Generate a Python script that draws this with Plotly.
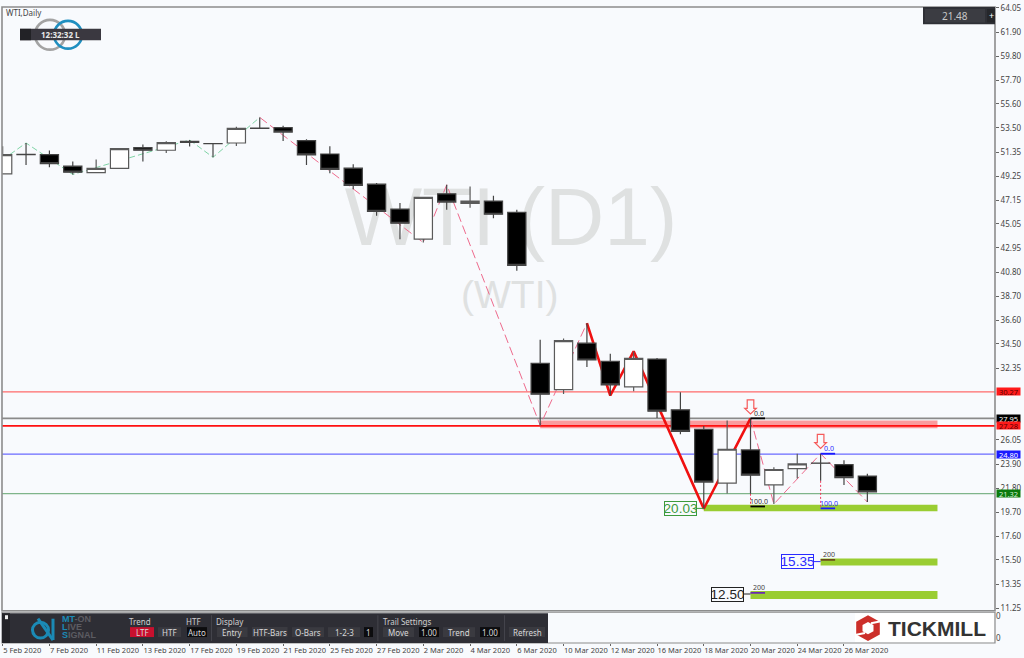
import plotly.graph_objects as go

BG = "#f8fafd"
UI = "Noto Sans"
ARIAL = "Liberation Sans"

# ---------- data ----------
dates = ["5 Feb 2020","6 Feb 2020","7 Feb 2020","10 Feb 2020","11 Feb 2020","12 Feb 2020","13 Feb 2020","14 Feb 2020",
         "17 Feb 2020","18 Feb 2020","19 Feb 2020","20 Feb 2020","21 Feb 2020","24 Feb 2020","25 Feb 2020","26 Feb 2020",
         "27 Feb 2020","28 Feb 2020","2 Mar 2020","3 Mar 2020","4 Mar 2020","5 Mar 2020","6 Mar 2020","9 Mar 2020",
         "10 Mar 2020","11 Mar 2020","12 Mar 2020","13 Mar 2020","16 Mar 2020","17 Mar 2020","18 Mar 2020","19 Mar 2020",
         "20 Mar 2020","23 Mar 2020","24 Mar 2020","25 Mar 2020","26 Mar 2020","27 Mar 2020"]
opens  = [49.45,51.17,51.15,50.13,49.57,49.93,51.76,51.53,52.32,52.12,52.17,53.47,53.52,52.38,51.20,49.95,48.55,46.36,43.71,47.70,
          46.86,47.06,46.07,32.79,30.48,34.56,32.96,30.71,33.16,28.70,26.98,22.25,25.17,22.10,23.53,24.02,23.88,22.87]
highs  = [51.88,52.17,51.50,50.54,50.71,51.70,52.03,52.32,52.43,52.12,53.60,54.42,53.69,52.49,51.88,50.30,48.64,46.89,47.40,48.49,
          48.35,47.53,46.30,34.86,34.97,36.32,33.64,33.84,33.25,30.25,27.27,27.77,27.95,23.65,24.84,24.84,24.27,23.07]
lows   = [49.45,50.24,50.04,49.40,49.55,49.93,50.54,51.29,51.85,50.91,51.90,53.39,52.34,50.24,49.51,48.09,45.77,43.71,43.41,46.30,
          46.47,45.55,40.93,27.33,30.10,32.46,29.96,30.34,27.98,26.54,20.00,21.34,21.32,20.41,22.66,22.45,22.08,20.59]
closes = [51.15,51.15,50.36,49.60,49.93,51.68,51.53,52.20,52.23,52.11,53.45,53.45,53.13,51.12,49.84,48.44,46.16,45.11,47.39,46.97,
          47.06,45.90,41.40,30.07,34.78,33.08,30.89,33.23,28.58,26.81,22.34,25.23,22.95,23.45,23.94,24.00,22.74,21.48]

tick_idx = list(range(0, 37, 2))
y_ticks = [64.05,61.90,59.80,57.70,55.60,53.50,51.35,49.25,47.15,45.05,42.95,40.80,38.70,36.60,34.50,32.35,
           26.05,23.90,21.80,19.70,17.60,15.50,13.35,11.25]
pane_ticks = [27, 5]
pane_labels = ["0", "0"]

level_vals   = [30.27, 27.95, 27.28, 24.80, 21.32]
level_lines  = ["#ff6a6a", "#8a8a8a", "#ff1010", "#6a6aff", "#7fb58a"]
level_widths = [1.2, 1.6, 1.8, 1.2, 1.2]
level_bgs    = ["#ff1a1a", "#000000", "#ff1a1a", "#1a1aff", "#0b7a0b"]
level_fgs    = ["#5a0000", "#ffffff", "#5a0000", "#ffffff", "#d8f0d8"]

green_i = [0, 1, 3, 8, 9, 11]
green_p = [50.70, 52.17, 49.40, 52.43, 50.91, 54.42]
pink1_i = [11, 18, 19, 23, 25]
pink1_p = [54.42, 43.41, 48.49, 27.33, 36.32]
thick_i = [25, 26, 27, 30, 32]
thick_p = [36.32, 29.96, 33.84, 20.00, 27.95]
pink2_i = [32, 33, 35, 37]
pink2_p = [27.95, 20.41, 24.84, 20.59]

zone_start = [23, 30, 35, 32]
zone_end   = [40, 40, 40, 40]
zone_top   = [27.77, 20.35, 15.62, 12.76]
zone_bot   = [27.07, 19.77, 15.01, 12.06]
zone_cols  = ["rgba(255,40,40,0.45)", "#9acd32", "#9acd32", "#9acd32"]

target_vals = [20.03, 15.35, 12.50]
target_cols = ["#3c9a3c", "#2a2aff", "#222222"]
target_idx  = [30, 35, 32]

fib_idx  = [32, 32, 35, 35, 35, 32]
fib_p    = [27.95, 20.20, 24.84, 20.03, 15.50, 12.60]
fib_text = ["0.0", "100.0", "0.0", "100.0", "200", "200"]
fib_col  = ["#000000", "#000000", "#1a1aff", "#1a1aff", "#6b4a1a", "#6a2ab0"]
fib_txt  = ["#333333", "#333333", "#2a2aff", "#2a2aff", "#444444", "#444444"]

arrow_idx = [32, 35]
arrow_p   = [28.95, 25.93]

btn_labels = ["LTF","HTF","Auto","Entry","HTF-Bars","O-Bars","1-2-3","1","Move","1.00","Trend","1.00","Refresh"]
head_labels = ["Trend","HTF","Display","Trail Settings"]

# ---------- geometry helpers ----------
L, R, T, B = 2, 995, 2, 643
X0, DX = 2.67, 23.37
x_range = [(L - X0) / DX, (R - X0) / DX]
y_range = [11.07, 64.13]
def PX(x): return (x - L) / (R - L)
def PY(y): return 1 - (y - T) / (B - T)

fig = go.Figure()

# main layer (below candles)
fig.add_trace(go.Scatter(x=[21.75], y=[45.0], mode="text", text=["WTI (D1)"], hoverinfo="skip",
                         textfont=dict(family=ARIAL, size=82, color="#dfe1e1"), showlegend=False))
fig.add_trace(go.Scatter(x=[21.7], y=[38.5], mode="text", text=["(WTI)"], hoverinfo="skip",
                         textfont=dict(family=ARIAL, size=39, color="#dfe1e1"), showlegend=False))
for s, e, t, b, c in zip(zone_start, zone_end, zone_top, zone_bot, zone_cols):
    fig.add_trace(go.Scatter(x=[s, e, e, s, s], y=[t, t, b, b, t], mode="lines", fill="toself", fillcolor=c,
                             line=dict(width=0), hoverinfo="skip", showlegend=False))
for v, c, w in zip(level_vals, level_lines, level_widths):
    fig.add_trace(go.Scatter(x=x_range, y=[v, v], mode="lines", line=dict(color=c, width=w),
                             hoverinfo="skip", showlegend=False))
fig.add_trace(go.Scatter(x=green_i, y=green_p, mode="lines", line=dict(color="#7fd3a5", width=1, dash="6px,3px"),
                         hoverinfo="skip", showlegend=False))
for xs, ys in [(pink1_i, pink1_p), (pink2_i, pink2_p)]:
    fig.add_trace(go.Scatter(x=xs, y=ys, mode="lines", line=dict(color="#ee6a8c", width=1, dash="9px,4px"),
                             hoverinfo="skip", showlegend=False))
fig.add_trace(go.Scatter(x=thick_i, y=thick_p, mode="lines", line=dict(color="#f01010", width=2.6),
                         hoverinfo="skip", showlegend=False))
fig.add_trace(go.Scatter(x=[32, 32], y=[21.32, 20.20], mode="lines", line=dict(color="#ee3a5a", width=1, dash="2px,2px"),
                         hoverinfo="skip", showlegend=False))
fig.add_trace(go.Scatter(x=[35, 35], y=[22.45, 20.03], mode="lines", line=dict(color="#ee3a5a", width=1, dash="2px,2px"),
                         hoverinfo="skip", showlegend=False))

# empty lower pane keeps its axis alive
fig.add_trace(go.Scatter(x=[0], y=[0], mode="lines", xaxis="x", yaxis="y2", line=dict(width=0),
                         hoverinfo="skip", showlegend=False))

# candles on an overlay axis so they sit above every line
fig.add_trace(go.Candlestick(x=list(range(len(opens))), open=opens, high=highs, low=lows, close=closes,
                             xaxis="x", yaxis="y3", whiskerwidth=0, hoverinfo="skip", showlegend=False,
                             increasing=dict(line=dict(color="#5a5a5a", width=1.2), fillcolor="#ffffff"),
                             decreasing=dict(line=dict(color="#444444", width=1.2), fillcolor="#000000")))

# short fib ticks and connectors go above the zones
for i, p, c in zip(fib_idx, fib_p, fib_col):
    fig.add_trace(go.Scatter(x=[i, i + 0.62], y=[p, p], mode="lines", line=dict(color=c, width=1.8),
                             hoverinfo="skip", showlegend=False, xaxis="x", yaxis="y3"))
for v, c, s in zip(target_vals, target_cols, target_idx):
    fig.add_trace(go.Scatter(x=[s - 0.3, s], y=[v, v], mode="lines", line=dict(color=c, width=1),
                             hoverinfo="skip", showlegend=False, xaxis="x", yaxis="y3"))

shapes, ann = [], []

def box(x0, y0, x1, y1, fill, line=None, lw=0):
    shapes.append(dict(type="rect", xref="paper", yref="paper", x0=PX(x0), x1=PX(x1), y0=PY(y0), y1=PY(y1),
                       fillcolor=fill, line=dict(color=line or fill, width=lw), layer="above"))
def seg(x0, y0, x1, y1, color, w):
    shapes.append(dict(type="line", xref="paper", yref="paper", x0=PX(x0), x1=PX(x1), y0=PY(y0), y1=PY(y1),
                       line=dict(color=color, width=w), layer="above"))
def ring(cx, cy, r, color, w):
    shapes.append(dict(type="circle", xref="paper", yref="paper", x0=PX(cx - r), x1=PX(cx + r), y0=PY(cy - r), y1=PY(cy + r),
                       line=dict(color=color, width=w), fillcolor="rgba(0,0,0,0)", layer="above"))
def txt(x, y, s, size=8, color="#333", font=UI, anchor="center", **kw):
    ann.append(dict(xref="paper", yref="paper", x=PX(x), y=PY(y), text=s, showarrow=False, xanchor=anchor,
                    yanchor="middle", font=dict(family=font, size=size, color=color), borderpad=0, **kw))

# frames
box(L, 2, R, 610.5, "rgba(0,0,0,0)", "#8c8c8c", 1.6)
box(L, 612, R, 643, "rgba(0,0,0,0)", "#8c8c8c", 1.2)

# level tags on the price scale
for v, bg, fg in zip(level_vals, level_bgs, level_fgs):
    ann.append(dict(xref="paper", yref="y", x=1, xshift=1, y=v, text=f"{v:.2f}", showarrow=False, xanchor="left",
                    yanchor="middle", bgcolor=bg, width=23, height=7, borderpad=0, align="center",
                    font=dict(family=UI, size=7.5, color=fg)))
# target labels
for v, c, s in zip(target_vals, target_cols, target_idx):
    ann.append(dict(xref="x", yref="y", x=s - 0.3, y=v, text=f"{v:.2f}", showarrow=False, xanchor="right",
                    yanchor="middle", bgcolor=BG, bordercolor=c, borderwidth=1, borderpad=0, width=31, height=13,
                    font=dict(family=ARIAL, size=13.5, color=c)))
# fib labels
for i, p, t, c in zip(fib_idx, fib_p, fib_text, fib_txt):
    ann.append(dict(xref="x", yref="y", x=i + 0.36, y=p, yshift=5, text=t, showarrow=False, xanchor="center",
                    yanchor="middle", font=dict(family=UI, size=7, color=c)))
# hollow arrows, placed on the axes and sized in pixels
for i, p in zip(arrow_idx, arrow_p):
    shapes.append(dict(type="path", xref="x", yref="y", xsizemode="pixel", ysizemode="pixel", xanchor=i, yanchor=p,
                       path="M -3.3 7 L 3.3 7 L 3.3 -1.4 L 5.8 -1.4 L 0 -7 L -5.8 -1.4 L -3.3 -1.4 Z",
                       fillcolor=BG, line=dict(color="#f55a5a", width=1.2), layer="above"))

# top-left
txt(5, 8, "WTI,Daily", 8, "#444", anchor="left")
ring(50, 30, 15, "#a3a3a3", 2.6)
ring(68, 30, 14, "#1f8fc0", 2.6)
box(20, 24, 101, 35.5, "#3a3840")
box(20, 24, 31, 35.5, "#222226")
txt(60.5, 29.5, "<b>12:32:32 L</b>", 8, "#e8e8e8")

# top-right price box
box(923, 2, 995, 19.5, "#2f3036")
box(925, 4, 985, 17.5, "#3b3c42")
box(987, 4, 995, 17.5, "#26272b")
txt(955, 11, "21.48", 10, "#c8c8c8")
txt(991, 11, "+", 9, "#ffffff")

# bottom toolbar
box(2, 613, 548, 643, "#2e2e35")
box(2, 613, 10, 643, "#232327")
box(5, 615, 8, 619, "#f0f0f0")
for sx in [211, 377.5, 504]:
    box(sx, 615, sx + 0.8, 641, "#4a4a52")
ring(40.5, 630, 8, "#1b8ab5", 3)
seg(38, 618.5, 53, 640, "#1b8ab5", 3)
seg(53, 618.5, 53, 640, "#1b8ab5", 3)
for yy, a, b in [(619, "MT", "-ON"), (627, "L", "IVE"), (635, "S", "IGNAL")]:
    txt(61, yy, f"<b><span style='color:#1b8ab5'>{a}</span><span style='color:#5c5c62'>{b}</span></b>", 9, "#666",
        font=ARIAL, anchor="left")
for (x, s) in zip([140, 193, 229.5, 407], head_labels):
    txt(x, 621, s, 8, "#cfcfcf")
btn_pos = [(130,154,"#c8102e"),(158,181,"#3a3a40"),(187,207,"#0c0c0e"),(217,247.5,"#3a3a40"),(252,287.5,"#3a3a40"),
           (292,324,"#3a3a40"),(328,360,"#3a3a40"),(364,373,"#0c0c0e"),(383,414,"#3a3a40"),(419,439,"#0c0c0e"),
           (443,475,"#3a3a40"),(480,500,"#0c0c0e"),(509,545,"#3a3a40")]
for (a, b, c), s in zip(btn_pos, btn_labels):
    box(a, 627, b, 637, c)
    txt((a + b) / 2, 632, s, 8, "#d8d8d8")

# Tickmill logo
box(855, 613, 994, 642, "#ffffff")
def hexpath(cx, cy, rx, ry):
    pts = [(cx, cy - ry), (cx + rx, cy - ry / 2), (cx + rx, cy + ry / 2), (cx, cy + ry), (cx - rx, cy + ry / 2), (cx - rx, cy - ry / 2)]
    return "M " + " L ".join(f"{PX(a):.5f} {PY(b):.5f}" for a, b in pts) + " Z"
shapes.append(dict(type="path", xref="paper", yref="paper", path=hexpath(868, 628, 11.8, 13), fillcolor="#cc2f2a", line=dict(width=0), layer="above"))
shapes.append(dict(type="path", xref="paper", yref="paper", path=hexpath(868, 628, 5.5, 6.2), fillcolor="#ffffff", line=dict(width=0), layer="above"))
seg(871, 623, 881, 621, "#ffffff", 2)
seg(865, 633, 855, 635, "#ffffff", 2)
txt(936.5, 628, "<b>TICKMILL</b>", 21, "#333333", font=ARIAL)

AX = dict(showgrid=False, zeroline=False)
fig.update_layout(
    width=1024, height=658, autosize=False, margin=dict(l=L, r=1024 - R, t=T, b=658 - B),
    paper_bgcolor=BG, plot_bgcolor=BG, boxgap=0.22, boxgroupgap=0, showlegend=False, shapes=shapes, annotations=ann,
    xaxis=dict(**AX, anchor="y2", range=x_range, tickmode="array", tickvals=tick_idx, tickangle=0,
               ticktext=[dates[i] for i in tick_idx], ticks="outside", ticklen=2, tickcolor="#666",
               ticklabelposition="outside right", ticklabeloverflow="allow",
               tickfont=dict(family=UI, size=7.5, color="#444"),
               showline=False, rangeslider=dict(visible=False)),
    yaxis=dict(**AX, domain=[(B - 610) / (B - T), 1], range=y_range, side="right", anchor="x", tickmode="array",
               tickvals=y_ticks, ticktext=[f"{v:.2f}" for v in y_ticks], ticks="outside", ticklen=3, tickcolor="#666",
               ticklabeloverflow="allow", tickfont=dict(family=UI, size=8, color="#444")),
    yaxis2=dict(**AX, domain=[0, (B - 612) / (B - T)], range=[0, 31], side="right", anchor="x", tickmode="array",
                tickvals=pane_ticks, ticktext=pane_labels, ticks="", ticklabeloverflow="allow",
                tickfont=dict(family=UI, size=8, color="#444")),
    yaxis3=dict(**AX, domain=[(B - 610) / (B - T), 1], range=y_range, overlaying="y", side="right", anchor="x",
                visible=False),
)
fig.write_html("out.html", config=dict(displayModeBar=False), post_script="document.body.style.margin='0';")
